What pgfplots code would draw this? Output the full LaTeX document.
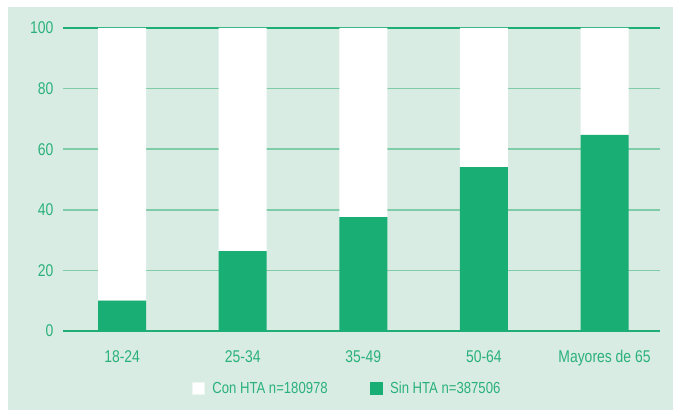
\documentclass[border=0pt]{standalone}
\usepackage{pgfplots}
\pgfplotsset{compat=1.18}
\usepackage{fontspec}
\setmainfont{Liberation Sans}[FakeStretch=0.82]
\definecolor{mint}{HTML}{D8ECE4}
\definecolor{bargreen}{HTML}{18AE74}
\definecolor{gridgreen}{HTML}{80CCA8}
\definecolor{darkline}{HTML}{1FAE76}
\definecolor{txtgreen}{HTML}{2AB17B}
\begin{document}
\begin{tikzpicture}
\fill[white] (0pt,0pt) rectangle (673pt,410pt);
\fill[mint] (8pt,0pt) rectangle (673pt,403pt);
\begin{axis}[
  at={(63pt,79pt)}, anchor=south west,
  scale only axis, width=597pt, height=303pt,
  ybar stacked, bar width=48pt,
  xmin=-0.49, xmax=4.46, ymin=0, ymax=100,
  xtick=data,
  xticklabels={18-24,25-34,35-49,50-64,Mayores de 65},
  ytick={20,40,60,80},
  extra y ticks={0,100},
  extra y tick style={grid style={color=darkline, line width=1.5pt}},
  ymajorgrids, grid style={color=gridgreen, line width=1.5pt},
  axis line style={draw=none},
  major tick length=0pt,
  tick label style={font=\fontsize{17}{20}\selectfont, text=txtgreen},
  yticklabel style={xshift=-6pt},
  xticklabel style={yshift=-16pt},
  /pgf/number format/assume math mode=true,
  legend style={at={(0.476,-0.19)}, anchor=center, draw=none, fill=none,
    font=\fontsize{16}{19}\selectfont\color{txtgreen}, legend columns=2,
    /tikz/every even column/.append style={column sep=40pt}},
  legend image code/.code={\draw[#1] (0pt,-6pt) rectangle (12pt,6pt);},
  legend cell align=left,
]
\addlegendimage{fill=white, draw=white!85!gridgreen, line width=0.4pt}
\addlegendimage{fill=bargreen, draw=bargreen}
\addplot[fill=bargreen, draw=none] coordinates {(0,10) (1,26.4) (2,37.6) (3,54.1) (4,64.7)};
\addplot[fill=white, draw=none] coordinates {(0,90) (1,73.6) (2,62.4) (3,45.9) (4,35.3)};
\legend{\hspace{6pt}Con HTA n=180978, \hspace{6pt}Sin HTA n=387506}
\end{axis}
\end{tikzpicture}
\end{document}
